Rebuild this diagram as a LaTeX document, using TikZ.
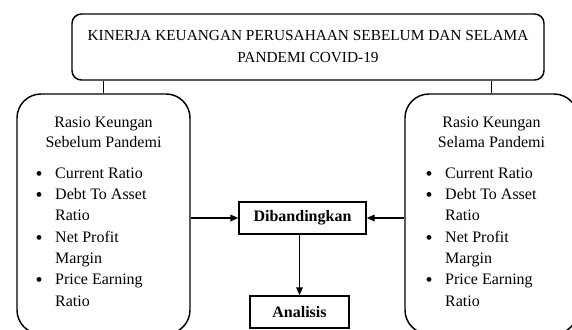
\documentclass[tikz,border=0pt]{standalone}
\usepackage{fontspec}
\setmainfont{Liberation Serif}
\usetikzlibrary{arrows.meta,calc}
\newcommand{\bul}{\raisebox{-1.5pt}{\fontsize{15}{15}\selectfont\textbullet}}
\newcommand{\ratiolist}{%
\fontsize{12}{16}\selectfont
\begin{tabular}{@{}l@{\hspace{9.5pt}}l@{}}
\bul & Current Ratio\\
\bul & Debt To Asset\\
 & Ratio\\
\bul & Net Profit\\
 & Margin\\
\bul & Price Earning\\
 & Ratio
\end{tabular}}
\tikzset{
  line/.style={line width=1.1pt},
  bigbox/.style={draw, line width=1.1pt, rounded corners=18pt, minimum width=129.75pt, minimum height=180pt, inner sep=0pt},
  titlebox/.style={draw, line width=1.1pt, rounded corners=7pt, minimum width=354pt, minimum height=49.5pt, inner sep=0pt, align=center, font=\fontsize{11.5}{16.5}\selectfont},
  flatbox/.style={draw, line width=1.1pt, minimum height=24pt, inner sep=0pt, font=\fontsize{12}{14}\selectfont\bfseries},
  headtext/.style={align=center, inner sep=0pt, font=\fontsize{12}{15}\selectfont},
  listtext/.style={anchor=west, inner sep=0pt},
  arr/.style={line width=1.1pt, -{Triangle[length=6pt,width=5pt]}}
}
\begin{document}
\begin{tikzpicture}[x=0.75pt,y=-0.75pt]
\useasboundingbox (0,0) rectangle (572,329);
\clip (0,0) rectangle (572,329);
\node[titlebox] (top) at (308,47) {KINERJA KEUANGAN PERUSAHAAN SEBELUM DAN SELAMA\\PANDEMI COVID-19};
\node[bigbox] (lb) at (103.5,214) {};
\node[bigbox] (rb) at (491.5,214) {};
\node[headtext] (lh) at (103.5,132) {Rasio Keungan\\Sebelum Pandemi};
\node[headtext] (rh) at (491.5,132) {Rasio Keungan\\Selama Pandemi};
\node[listtext] (ll) at ($(lb.west)+(19,24)$) {\ratiolist};
\node[listtext] (rl) at ($(rb.west)+(21,24)$) {\ratiolist};
\node[flatbox, minimum width=95.25pt] (dib) at (302.5,218) {Dibandingkan};
\node[flatbox, minimum width=74.25pt] (ana) at (299.5,312) {Analisis};
\draw[line] (lb.north) -- (lb.north |- top.south);
\draw[line] (rb.north) -- (rb.north |- top.south);
\draw[arr] (lb.east |- dib.west) -- (dib.west);
\draw[arr] (rb.west |- dib.east) -- (dib.east);
\draw[arr] (dib.south -| ana.north) -- (ana.north);
\end{tikzpicture}
\end{document}
